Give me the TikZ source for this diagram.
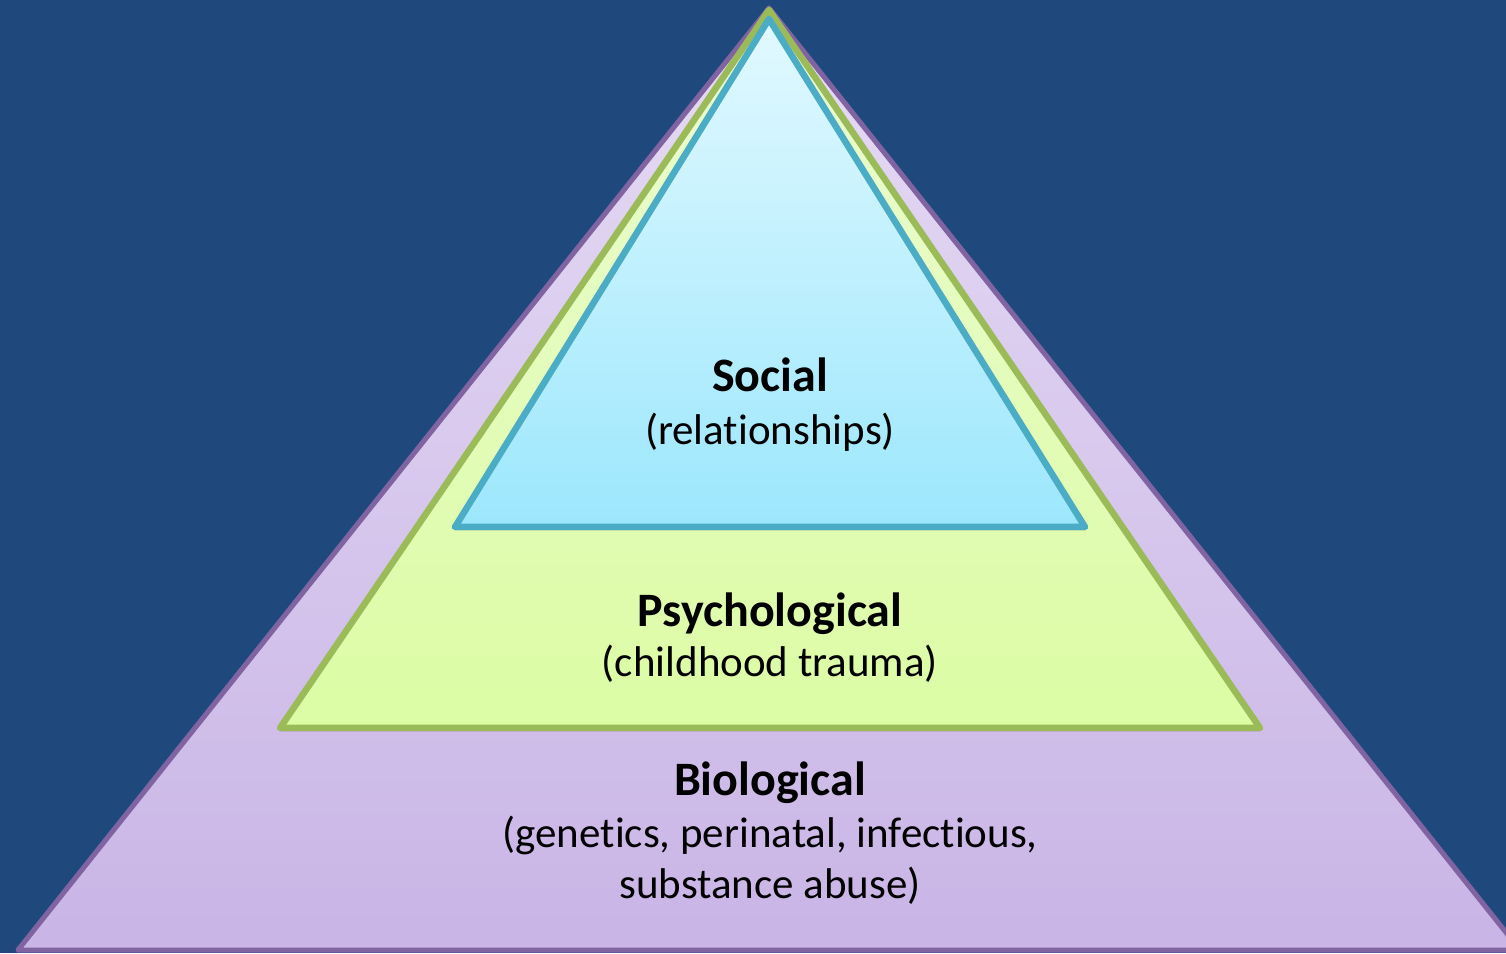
\documentclass[tikz,border=0pt]{standalone}
\usepackage{fontspec}
\setmainfont{Carlito}[Ligatures=NoCommon]
\usepackage{tikz}
\usetikzlibrary{shadows}
\definecolor{bgblue}{HTML}{1F497D}
\definecolor{bioline}{HTML}{8064A2}
\definecolor{biotop}{HTML}{E6DBF4}
\definecolor{biobot}{HTML}{C9B5E6}
\definecolor{psyline}{HTML}{9BBB59}
\definecolor{psytop}{HTML}{EBFCD2}
\definecolor{psybot}{HTML}{DCFCA4}
\definecolor{socline}{HTML}{4BACC6}
\definecolor{soctop}{HTML}{E2F9FF}
\definecolor{socbot}{HTML}{9CE7FD}
\tikzset{tier/.style={line width=6.5pt,line join=round},
tiershadow/.style={drop shadow={shadow xshift=0pt,shadow yshift=-3.5pt,opacity=.3,fill=black!70}},
head/.style={anchor=base,font=\fontsize{48}{56}\selectfont\bfseries},
sub/.style={anchor=base,font=\fontsize{43}{52}\selectfont}}

\begin{document}
\begin{tikzpicture}[x=1pt,y=1pt]
\useasboundingbox (0,0) rectangle (1506,953);
\clip (0,0) rectangle (1506,953);
\fill[bgblue] (0,0) rectangle (1506,953);
% tiers, widest at the back
\draw[tier,line width=5pt,draw=bioline,top color=biotop,bottom color=biobot] (769,945)--(18,3)--(1520,3)--cycle;
\draw[tier,tiershadow,draw=psyline,top color=psytop,bottom color=psybot] (769,943)--(280,225)--(1260,225)--cycle;
\draw[tier,tiershadow,draw=socline,top color=soctop,bottom color=socbot] (769,934)--(455,426)--(1085,426)--cycle;
% labels
\node[head] (soc) at (770,561) {Social};
\node[sub] (socsub) at (770,508) {(relationships)};
\node[head] (psy) at (770,326) {Psychological};
\node[sub] (psysub) at (770,276) {(childhood trauma)};
\node[head] (bio) at (770,158) {Biological};
\node[sub] (biosub) at (770,106) {(genetics, perinatal, infectious,};
\node[sub] (biosubb) at (770,55) {substance abuse)};
\end{tikzpicture}
\end{document}
